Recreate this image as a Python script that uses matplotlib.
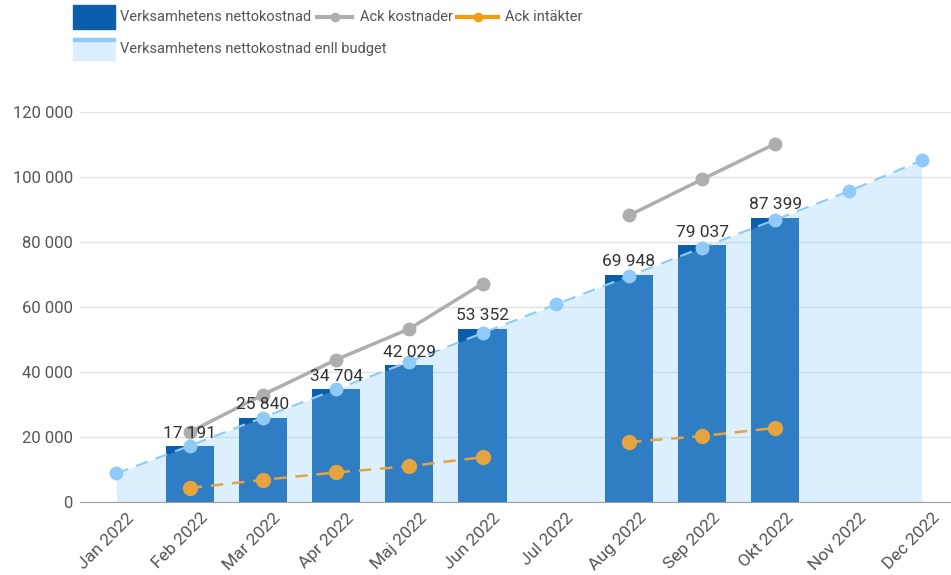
import matplotlib
matplotlib.use("Agg")
from matplotlib import pyplot as plt
from matplotlib.patches import Rectangle
from matplotlib.lines import Line2D
from matplotlib.ticker import FuncFormatter
from matplotlib.transforms import ScaledTranslation
import numpy as np

plt.rcParams['font.family'] = ['Roboto', 'DejaVu Sans']

months = ['Jan 2022', 'Feb 2022', 'Mar 2022', 'Apr 2022', 'Maj 2022', 'Jun 2022',
          'Jul 2022', 'Aug 2022', 'Sep 2022', 'Okt 2022', 'Nov 2022', 'Dec 2022']
nettokostnad = [None, 17191, 25840, 34704, 42029, 53352, None, 69948, 79037, 87399, None, None]
budget = [8800, 17300, 26000, 34700, 43200, 52000, 60800, 69500, 78300, 86900, 95600, 105200]
ack_kostnader = [None, 21500, 33000, 43800, 53300, 67200, None, 88200, 99300, 110300, None, None]
ack_intakter = [None, 4300, 6800, 9100, 11000, 13800, None, 18400, 20300, 22800, None, None]

dark_blue = '#0B5EAB'
area_col = '#89C9FB'
budget_col = '#90CAF9'
gray_col = '#AEAEAE'
orange_col = '#E6A43F'
text_col = '#555555'

fig = plt.figure(figsize=(9.51, 5.75), dpi=100)
ax = fig.add_axes([0.084, 0.127, 0.916, 0.678])
x = np.arange(len(months))

# bars
bx = [i for i, v in enumerate(nettokostnad) if v is not None]
bv = [v for v in nettokostnad if v is not None]
ax.bar(bx, bv, width=0.66, color=dark_blue, zorder=2)

# budget area (semi transparent, lies over the bars)
ax.fill_between(x, 0, budget, color=area_col, alpha=0.29, linewidth=0, zorder=3)
ax.plot(x, budget, color=budget_col, lw=1.5, ls=(0, (6, 4)), zorder=4)
ax.plot(x, budget, 'o', color=budget_col, ms=10, mec='none', zorder=5)

def plot_segments(vals, **kw):
    seg_x, seg_y = [], []
    for i, v in enumerate(vals + [None]):
        if v is None:
            if seg_x:
                ax.plot(seg_x, seg_y, **kw)
            seg_x, seg_y = [], []
        else:
            seg_x.append(i)
            seg_y.append(v)

plot_segments(ack_kostnader, color=gray_col, lw=2.5, marker='o', ms=10, mec='none', zorder=6)
plot_segments(ack_intakter, color=orange_col, lw=1.8, ls=(0, (5, 3.5)), marker='o', ms=11,
              mec='none', zorder=6)

for i, v in zip(bx, bv):
    ax.annotate(f'{v:,}'.replace(',', ' '), (i, v), xytext=(0, 4), textcoords='offset points',
                ha='center', va='bottom', fontsize=12.5, color='#333333', zorder=8)

ax.set_xlim(-0.5, 11.4)
ax.set_ylim(0, 120000)
ax.set_yticks(range(0, 120001, 20000))
ax.yaxis.set_major_formatter(FuncFormatter(lambda v, p: f'{int(v):,}'.replace(',', ' ')))
ax.grid(axis='y', color='#E3E3E3', lw=1, zorder=0)
ax.set_axisbelow(True)
for s in ['top', 'right', 'left']:
    ax.spines[s].set_visible(False)
ax.spines['bottom'].set_color('#9E9E9E')
ax.spines['bottom'].set_zorder(7)
ax.tick_params(axis='y', length=0, labelsize=12, labelcolor=text_col, pad=5)
ax.tick_params(axis='x', length=0, labelsize=12.5, labelcolor=text_col, pad=6)
ax.set_xticks(x)
ax.set_xticklabels(months, rotation=45, ha='right', rotation_mode='anchor')
shift = ScaledTranslation(10 / 100, 0, fig.dpi_scale_trans)
for lbl in ax.get_xticklabels():
    lbl.set_transform(lbl.get_transform() + shift)

# legend drawn by hand
W, H = 951, 575
def fx(px): return px / W
def fy(py): return 1 - py / H

fig.patches.append(Rectangle((fx(73), fy(29)), fx(42), 24 / H, transform=fig.transFigure,
                             color=dark_blue))
fig.text(fx(120), fy(17), 'Verksamhetens nettokostnad', fontsize=10.5, color=text_col, va='center')
fig.lines.append(Line2D([fx(317), fx(352)], [fy(17), fy(17)], transform=fig.transFigure,
                        color=gray_col, lw=3))
fig.lines.append(Line2D([fx(335)], [fy(17)], transform=fig.transFigure, color=gray_col,
                        marker='o', ms=7, mec='none'))
fig.text(fx(360), fy(17), 'Ack kostnader', fontsize=10.5, color=text_col, va='center')
fig.lines.append(Line2D([fx(457), fx(498)], [fy(17), fy(17)], transform=fig.transFigure,
                        color='#F39C12', lw=3))
fig.lines.append(Line2D([fx(478)], [fy(17)], transform=fig.transFigure, color='#F39C12',
                        marker='o', ms=7, mec='none'))
fig.text(fx(505), fy(17), 'Ack intäkter', fontsize=10.5, color=text_col, va='center')

fig.patches.append(Rectangle((fx(73), fy(60)), fx(42), 22 / H, transform=fig.transFigure,
                             color='#DDEEFC'))
fig.patches.append(Rectangle((fx(73), fy(41)), fx(42), 3 / H, transform=fig.transFigure,
                             color=budget_col))
fig.text(fx(120), fy(49), 'Verksamhetens nettokostnad enll budget', fontsize=10.5,
         color=text_col, va='center')

fig.savefig('out.png', dpi=100)
